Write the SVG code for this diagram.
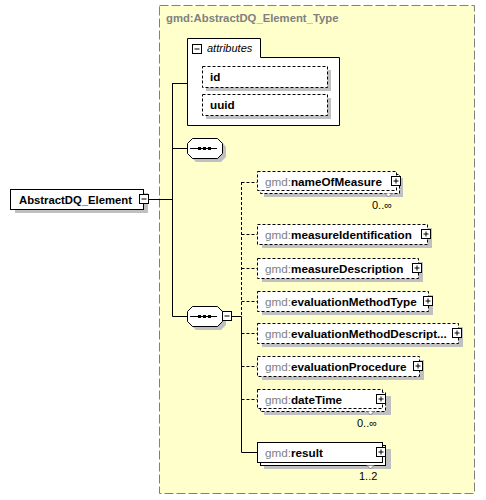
<svg xmlns="http://www.w3.org/2000/svg" width="486" height="500" viewBox="0 0 486 500">
<defs>
<style>
text{font-family:"Liberation Sans",Arial,sans-serif;}
.pfx{fill:#808080;font-size:11.7px;}
.nm{fill:#000;font-size:11.7px;font-weight:bold;}
.card{fill:#000;font-size:11px;}
.shadow{fill:#c0c0c0;stroke:none;}
.box{fill:#fff;stroke:#000;stroke-width:1;}
.dbox{fill:#fff;stroke:#000;stroke-width:1;stroke-dasharray:3,2;}
.ln{stroke:#000;stroke-width:1;fill:none;}
.dln{stroke:#000;stroke-width:1;fill:none;stroke-dasharray:3,2;}
.mark{fill:#fff;stroke:#808080;stroke-width:1;}
</style>
<g id="plus"><rect x="0.5" y="0.5" width="9" height="9" fill="#fff" stroke="#000"/><path d="M2.5 5H7.5M5 2.5V7.5" stroke="#000" fill="none"/></g>
<g id="minus"><rect x="0.5" y="0.5" width="9" height="9" fill="#fff" stroke="#000"/><path d="M2.5 5H7.5" stroke="#000" fill="none"/></g>
</defs>
<rect width="486" height="500" fill="#fff"/>

<g id="type-box">
<rect x="159.5" y="5.5" width="315" height="488" fill="#ffffcc" stroke="#808080" stroke-dasharray="9,3"/>
<text x="166" y="22" fill="#808080" font-size="11.3" font-weight="bold">gmd:AbstractDQ_Element_Type</text>
</g>

<g id="connectors">
<path class="ln" d="M149 199.5H172.5M172.5 83V316.5M172.5 83.5H187M172.5 148.5H187M172.5 316.5H187M232 316.5H241.5M241.5 316.5V452.5M241.5 452.5H257"/>
<path class="dln" d="M241.5 182V316M241.5 182.5H257M241.5 234.5H257M241.5 268.5H257M241.5 301.5H257M241.5 333.5H257M241.5 366.5H257M241.5 399.5H257"/>
</g>

<g id="AbstractDQ_Element">
<rect class="shadow" x="15" y="193" width="133" height="20"/>
<rect class="box" x="10.5" y="189.5" width="133" height="20"/>
<text x="19" y="203.5" font-size="11.3" font-weight="bold">AbstractDQ_Element</text>
<use href="#minus" x="139" y="194"/>
</g>

<g id="attributes">
<path class="box" d="M187.5 38.5H260.5V57.5H339.5V125.5H187.5Z"/>
<use href="#minus" x="192" y="44"/>
<text x="207" y="52" font-size="11" font-style="italic">attributes</text>
<g id="attr-id">
<rect class="shadow" x="206" y="70" width="125" height="21"/>
<rect class="dbox" x="202.5" y="66.5" width="125" height="21"/>
<text x="210" y="81" font-size="11.7" font-weight="bold">id</text>
</g>
<g id="attr-uuid">
<rect class="shadow" x="206" y="98" width="125" height="21"/>
<rect class="dbox" x="202.5" y="94.5" width="125" height="21"/>
<text x="210" y="109" font-size="11.7" font-weight="bold">uuid</text>
</g>
</g>

<g id="sequence1">
<path class="shadow" d="M196 142H222L226 147V157L221 162H196L191 157V147Z"/>
<path class="box" d="M192.5 138.5H217.5L222.5 143.5V153.5L217.5 158.5H192.5L187.5 153.5V143.5Z"/>
<path class="ln" d="M190 148.5H217"/>
<rect x="198" y="147" width="3" height="3"/><rect x="203" y="147" width="3" height="3"/><rect x="208" y="147" width="3" height="3"/>
</g>

<g id="sequence2">
<path class="shadow" d="M196 310H222L226 315V325L221 330H196L191 325V315Z"/>
<path class="box" d="M192.5 306.5H217.5L222.5 311.5V321.5L217.5 326.5H192.5L187.5 321.5V311.5Z"/>
<path class="ln" d="M190 316.5H217"/>
<rect x="198" y="315" width="3" height="3"/><rect x="203" y="315" width="3" height="3"/><rect x="208" y="315" width="3" height="3"/>
<use href="#minus" x="222" y="311"/>
</g>

<g id="nameOfMeasure">
<rect class="shadow" x="264" y="178" width="139" height="19"/>
<rect class="dbox" x="260.5" y="174.5" width="139" height="19"/>
<rect class="dbox" x="257.5" y="171.5" width="139" height="19"/>
<path class="mark" d="M385 193.5L388.5 197L392 193.5"/>
<text x="265" y="185.5"><tspan class="pfx">gmd:</tspan><tspan class="nm">nameOfMeasure</tspan></text>
<use href="#plus" x="391" y="176"/>
<text class="card" x="372" y="209">0..∞</text>
</g>

<g id="measureIdentification">
<rect class="shadow" x="262" y="228" width="170" height="20"/>
<rect class="dbox" x="257.5" y="224.5" width="170" height="20"/>
<text x="265" y="238.5"><tspan class="pfx">gmd:</tspan><tspan class="nm">measureIdentification</tspan></text>
<use href="#plus" x="421" y="229"/>
</g>

<g id="measureDescription">
<rect class="shadow" x="262" y="262" width="161" height="20"/>
<rect class="dbox" x="257.5" y="258.5" width="161" height="20"/>
<text x="265" y="272.5"><tspan class="pfx">gmd:</tspan><tspan class="nm">measureDescription</tspan></text>
<use href="#plus" x="412" y="263"/>
</g>

<g id="evaluationMethodType">
<rect class="shadow" x="262" y="295" width="171" height="20"/>
<rect class="dbox" x="257.5" y="291.5" width="171" height="20"/>
<text x="265" y="305.5"><tspan class="pfx">gmd:</tspan><tspan class="nm">evaluationMethodType</tspan></text>
<use href="#plus" x="423" y="296"/>
</g>

<g id="evaluationMethodDescription">
<rect class="shadow" x="262" y="327" width="201" height="20"/>
<rect class="dbox" x="257.5" y="323.5" width="201" height="20"/>
<text x="265" y="337.5"><tspan class="pfx">gmd:</tspan><tspan class="nm">evaluationMethodDescript...</tspan></text>
<use href="#plus" x="452" y="328"/>
</g>

<g id="evaluationProcedure">
<rect class="shadow" x="262" y="360" width="162" height="20"/>
<rect class="dbox" x="257.5" y="356.5" width="162" height="20"/>
<text x="265" y="370.5"><tspan class="pfx">gmd:</tspan><tspan class="nm">evaluationProcedure</tspan></text>
<use href="#plus" x="413" y="361"/>
</g>

<g id="dateTime">
<rect class="shadow" x="264" y="396" width="127" height="19"/>
<rect class="dbox" x="260.5" y="392.5" width="125" height="19"/>
<rect class="dbox" x="257.5" y="389.5" width="125" height="19"/>
<path class="mark" d="M367 411.5L370.5 415L374 411.5"/>
<text x="265" y="403.5"><tspan class="pfx">gmd:</tspan><tspan class="nm">dateTime</tspan></text>
<use href="#plus" x="376" y="394"/>
<text class="card" x="357" y="427">0..∞</text>
</g>

<g id="result">
<rect class="shadow" x="264" y="449" width="127" height="20"/>
<rect class="box" x="260.5" y="445.5" width="125" height="20"/>
<rect class="box" x="257.5" y="442.5" width="125" height="20"/>
<path class="mark" d="M367 465.5L370.5 469L374 465.5"/>
<text x="265" y="456.5"><tspan class="pfx">gmd:</tspan><tspan class="nm">result</tspan></text>
<use href="#plus" x="376" y="447"/>
<text class="card" x="359" y="480">1..2</text>
</g>
</svg>
